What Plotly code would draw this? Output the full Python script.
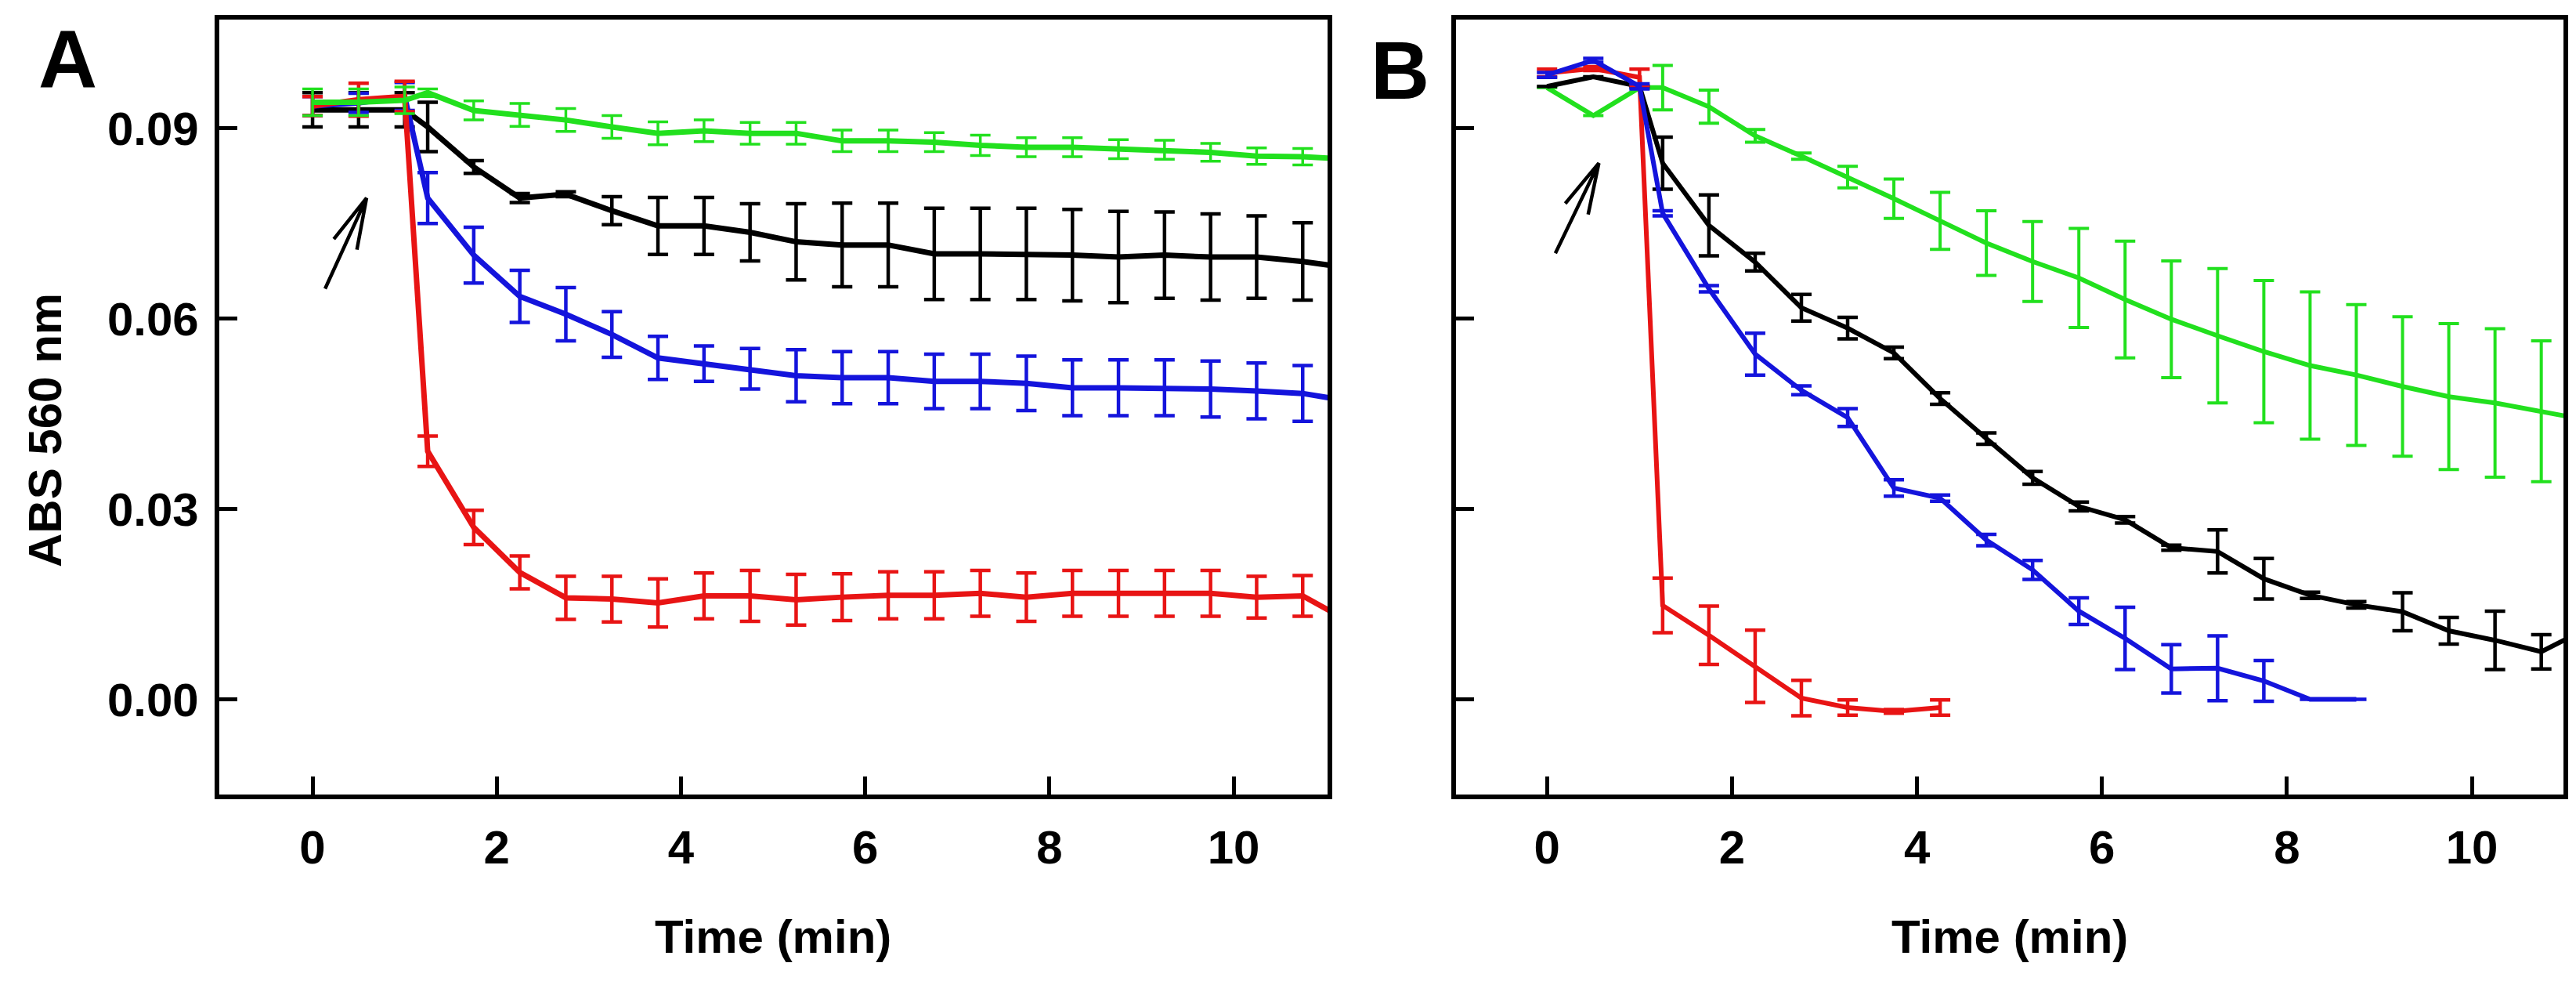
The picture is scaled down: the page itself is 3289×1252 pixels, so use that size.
import math
import plotly.graph_objects as go

# ---------------- data ----------------
time_full = [0, 0.5, 1, 1.25, 1.75, 2.25, 2.75, 3.25, 3.75, 4.25, 4.75, 5.25, 5.75,
             6.25, 6.75, 7.25, 7.75, 8.25, 8.75, 9.25, 9.75, 10.25, 10.75, 11.25]

# Panel A
a_green = [0.0941, 0.0941, 0.0944, 0.0956, 0.0928, 0.0921, 0.0913, 0.0902, 0.0892, 0.0896, 0.0892, 0.0892,
           0.0880, 0.0880, 0.0878, 0.0873, 0.0870, 0.0870, 0.0867, 0.0866, 0.0862, 0.0856, 0.0855, 0.0851]
a_green_err = [0.0021, 0.0021, 0.0021, 0.0006, 0.0015, 0.0018, 0.0018, 0.0018, 0.0018, 0.0017, 0.0017, 0.0017,
               0.0017, 0.0017, 0.0015, 0.0016, 0.0015, 0.0015, 0.0015, 0.0015, 0.0014, 0.0013, 0.0013, 0.0013]
a_black = [0.0929, 0.0929, 0.0929, 0.0902, 0.0839, 0.0790, 0.0796, 0.0770, 0.0746, 0.0746, 0.0736, 0.0721,
           0.0716, 0.0716, 0.0702, 0.0702, 0.0702, 0.0700, 0.0697, 0.0700, 0.0697, 0.0697, 0.0690, 0.0680]
a_black_err = [0.0027, 0.0027, 0.0027, 0.0039, 0.0010, 0.0007, 0.0004, 0.0022, 0.0045, 0.0045, 0.0045, 0.0060,
               0.0066, 0.0066, 0.0072, 0.0072, 0.0072, 0.0072, 0.0072, 0.0068, 0.0068, 0.0065, 0.0061, 0.0061]
a_blue = [0.0935, 0.0940, 0.0950, 0.0790, 0.0700, 0.0635, 0.0607, 0.0575, 0.0538, 0.0529, 0.0521, 0.0510,
          0.0507, 0.0507, 0.0501, 0.0501, 0.0498, 0.0491, 0.0491, 0.0491, 0.0489, 0.0486, 0.0482, 0.0470]
a_blue_err = [0.0015, 0.0015, 0.0022, 0.0040, 0.0044, 0.0041, 0.0042, 0.0036, 0.0034, 0.0028, 0.0032, 0.0041,
              0.0041, 0.0041, 0.0043, 0.0043, 0.0043, 0.0044, 0.0044, 0.0044, 0.0044, 0.0044, 0.0044, 0.0044]
a_red = [0.0935, 0.0945, 0.0950, 0.0391, 0.0271, 0.0200, 0.0160, 0.0158, 0.0152, 0.0163, 0.0163, 0.0157,
         0.0161, 0.0164, 0.0164, 0.0167, 0.0161, 0.0167, 0.0167, 0.0167, 0.0167, 0.0161, 0.0163, 0.0123]
a_red_err = [0.0015, 0.0026, 0.0024, 0.0024, 0.0027, 0.0026, 0.0034, 0.0036, 0.0038, 0.0036, 0.0040, 0.0040,
             0.0037, 0.0037, 0.0037, 0.0036, 0.0038, 0.0036, 0.0036, 0.0036, 0.0036, 0.0033, 0.0032, 0.0032]

# Panel B
b_green = [0.0964, 0.0920, 0.0964, 0.0964, 0.0934, 0.0888, 0.0856, 0.0823, 0.0789, 0.0754, 0.0719, 0.0690,
           0.0664, 0.0630, 0.0599, 0.0573, 0.0548, 0.0526, 0.0511, 0.0493, 0.0477, 0.0467, 0.0454, 0.0440]
b_green_err = [0, 0, 0, 0.0035, 0.0026, 0.0010, 0.0005, 0.0017, 0.0031, 0.0045, 0.0051, 0.0063,
               0.0078, 0.0092, 0.0092, 0.0106, 0.0112, 0.0116, 0.0111, 0.0110, 0.0115, 0.0117, 0.0111, 0.0111]
b_black = [0.0966, 0.0981, 0.0966, 0.0845, 0.0747, 0.0689, 0.0617, 0.0585, 0.0546, 0.0474, 0.0411, 0.0349,
           0.0304, 0.0283, 0.0239, 0.0233, 0.0190, 0.0164, 0.0149, 0.0138, 0.0108, 0.0093, 0.0075, 0.0112]
b_black_err = [0, 0, 0, 0.0041, 0.0048, 0.0014, 0.0021, 0.0017, 0.0009, 0.0009, 0.0009, 0.0010,
               0.0007, 0.0005, 0.0004, 0.0034, 0.0032, 0.0005, 0.0005, 0.0030, 0.0021, 0.0046, 0.0027, 0.0027]
b_blue_time = [0, 0.5, 1, 1.25, 1.75, 2.25, 2.75, 3.25, 3.75, 4.25, 4.75, 5.25, 5.75,
               6.25, 6.75, 7.25, 7.75, 8.25, 8.75]
b_blue = [0.0984, 0.1007, 0.0966, 0.0766, 0.0647, 0.0544, 0.0487, 0.0444, 0.0333, 0.0317, 0.0251, 0.0204,
          0.0139, 0.0096, 0.0048, 0.0049, 0.0029, 0.0000, 0.0000]
b_blue_err = [0.0004, 0.0003, 0.0004, 0.0004, 0.0005, 0.0033, 0.0007, 0.0014, 0.0013, 0.0005, 0.0009, 0.0015,
              0.0021, 0.0049, 0.0038, 0.0051, 0.0032, 0, 0]
b_red_time = [0, 0.5, 1, 1.25, 1.75, 2.25, 2.75, 3.25, 3.75, 4.25]
b_red = [0.0987, 0.0994, 0.0980, 0.0148, 0.0101, 0.0052, 0.0002, -0.0013, -0.0019, -0.0013]
b_red_err = [0.0006, 0.0003, 0.0013, 0.0043, 0.0046, 0.0057, 0.0028, 0.0012, 0.0003, 0.0012]

y_ticks = [0.00, 0.03, 0.06, 0.09]
x_ticks = [0, 2, 4, 6, 8, 10]
x_title = "Time (min)"
y_title = "ABS 560 nm"
panel_labels = ["A", "B"]

# arrows (tail, head) in data units
arrow_a = [(0.136, 0.0647), (0.586, 0.0790)]
arrow_b = [(0.090, 0.0703), (0.560, 0.0845)]

# ---------------- layout geometry ----------------
W, H = 3289, 1252
A_L, A_R = 279.7, 1695.0
B_L, B_R = 1858.7, 3273.0
P_T, P_B = 25.0, 1014.0
xr_a = [-1.015, 11.02]
xr_b = [-0.987, 10.99]
yr = [-0.0150, 0.10712]

GREEN = "#22e01e"
RED = "#e81414"
BLUE = "#1414dc"
BLACK = "#000000"
FONT = "Liberation Sans, Arial, sans-serif"

fig = go.Figure()


def add_series(x, y, err, color, xa, ya, lw=7, ew=4.5):
    fig.add_trace(go.Scatter(
        x=x, y=y, mode="lines", xaxis=xa, yaxis=ya,
        line=dict(color=color, width=lw),
        error_y=dict(type="data", array=err, visible=True, color=color,
                     thickness=ew, width=13),
        showlegend=False, cliponaxis=True))


# Panel A (green on top)
add_series(time_full, a_black, a_black_err, BLACK, "x", "y")
add_series(time_full, a_blue, a_blue_err, BLUE, "x", "y")
add_series(time_full, a_red, a_red_err, RED, "x", "y")
add_series(time_full, a_green, a_green_err, GREEN, "x", "y", ew=3.5)

# Panel B
add_series(time_full, b_green, b_green_err, GREEN, "x2", "y2", lw=6, ew=4)
add_series(time_full, b_black, b_black_err, BLACK, "x2", "y2", lw=6)
add_series(b_red_time, b_red, b_red_err, RED, "x2", "y2", lw=6)
add_series(b_blue_time, b_blue, b_blue_err, BLUE, "x2", "y2", lw=6)

ydom = [1 - P_B / H, 1 - P_T / H]
axis_common = dict(showline=True, linewidth=6, linecolor="black", mirror=True,
                   ticks="inside", ticklen=23, tickwidth=4.5, tickcolor="black",
                   showgrid=False, zeroline=False,
                   tickfont=dict(family=FONT, size=60, color="black", weight="bold"))

fig.update_layout(
    width=W, height=H, margin=dict(l=0, r=0, t=0, b=0),
    paper_bgcolor="white", plot_bgcolor="white",
    font=dict(family=FONT, color="black"),
    xaxis=dict(domain=[A_L / W, A_R / W], range=xr_a, tickvals=x_ticks, anchor="y",
               ticklabelstandoff=10, **axis_common),
    yaxis=dict(domain=ydom, range=yr, tickvals=y_ticks, tickformat=".2f", anchor="x",
               ticklabelstandoff=8, **axis_common),
    xaxis2=dict(domain=[B_L / W, B_R / W], range=xr_b, tickvals=x_ticks, anchor="y2",
                ticklabelstandoff=10, **axis_common),
    yaxis2=dict(domain=ydom, range=yr, tickvals=y_ticks, showticklabels=False, anchor="x2",
                **axis_common),
)

# text
def ann(text, x, y, size, angle=0):
    fig.add_annotation(text=text, x=x / W, y=1 - y / H, xref="paper", yref="paper",
                       showarrow=False, textangle=angle, xanchor="center", yanchor="middle",
                       font=dict(family=FONT, size=size, color="black", weight="bold"))

ann(panel_labels[0], 86, 75.5, 104)
ann(panel_labels[1], 1787.5, 90, 104)
ann(y_title, 57.5, 549.5, 60, -90)
ann(x_title, (A_L + A_R) / 2, 1195, 60)
ann(x_title, (B_L + B_R) / 2, 1195, 60)


# arrows drawn as open V heads
def add_arrow(arrow, xr, xl, xrt, xref, yref):
    (tx, ty), (hx, hy) = arrow
    pxx = (xrt - xl) / (xr[1] - xr[0])
    pxy = (P_B - P_T) / (yr[1] - yr[0])
    dx = (tx - hx) * pxx
    dy = -(ty - hy) * pxy
    n = math.hypot(dx, dy)
    ux, uy = dx / n, dy / n
    L = 67.0
    ang = math.radians(14)
    pts = []
    for s in (1, -1):
        c, si = math.cos(s * ang), math.sin(s * ang)
        wx = (ux * c - uy * si) * L
        wy = (ux * si + uy * c) * L
        pts.append((hx + wx / pxx, hy - wy / pxy))
    path = (f"M {tx},{ty} L {hx},{hy} M {pts[0][0]},{pts[0][1]} L {hx},{hy} "
            f"L {pts[1][0]},{pts[1][1]}")
    fig.add_shape(type="path", path=path, xref=xref, yref=yref,
                  line=dict(color="black", width=4.5))


add_arrow(arrow_a, xr_a, A_L, A_R, "x", "y")
add_arrow(arrow_b, xr_b, B_L, B_R, "x2", "y2")

fig.write_html("out.html")
